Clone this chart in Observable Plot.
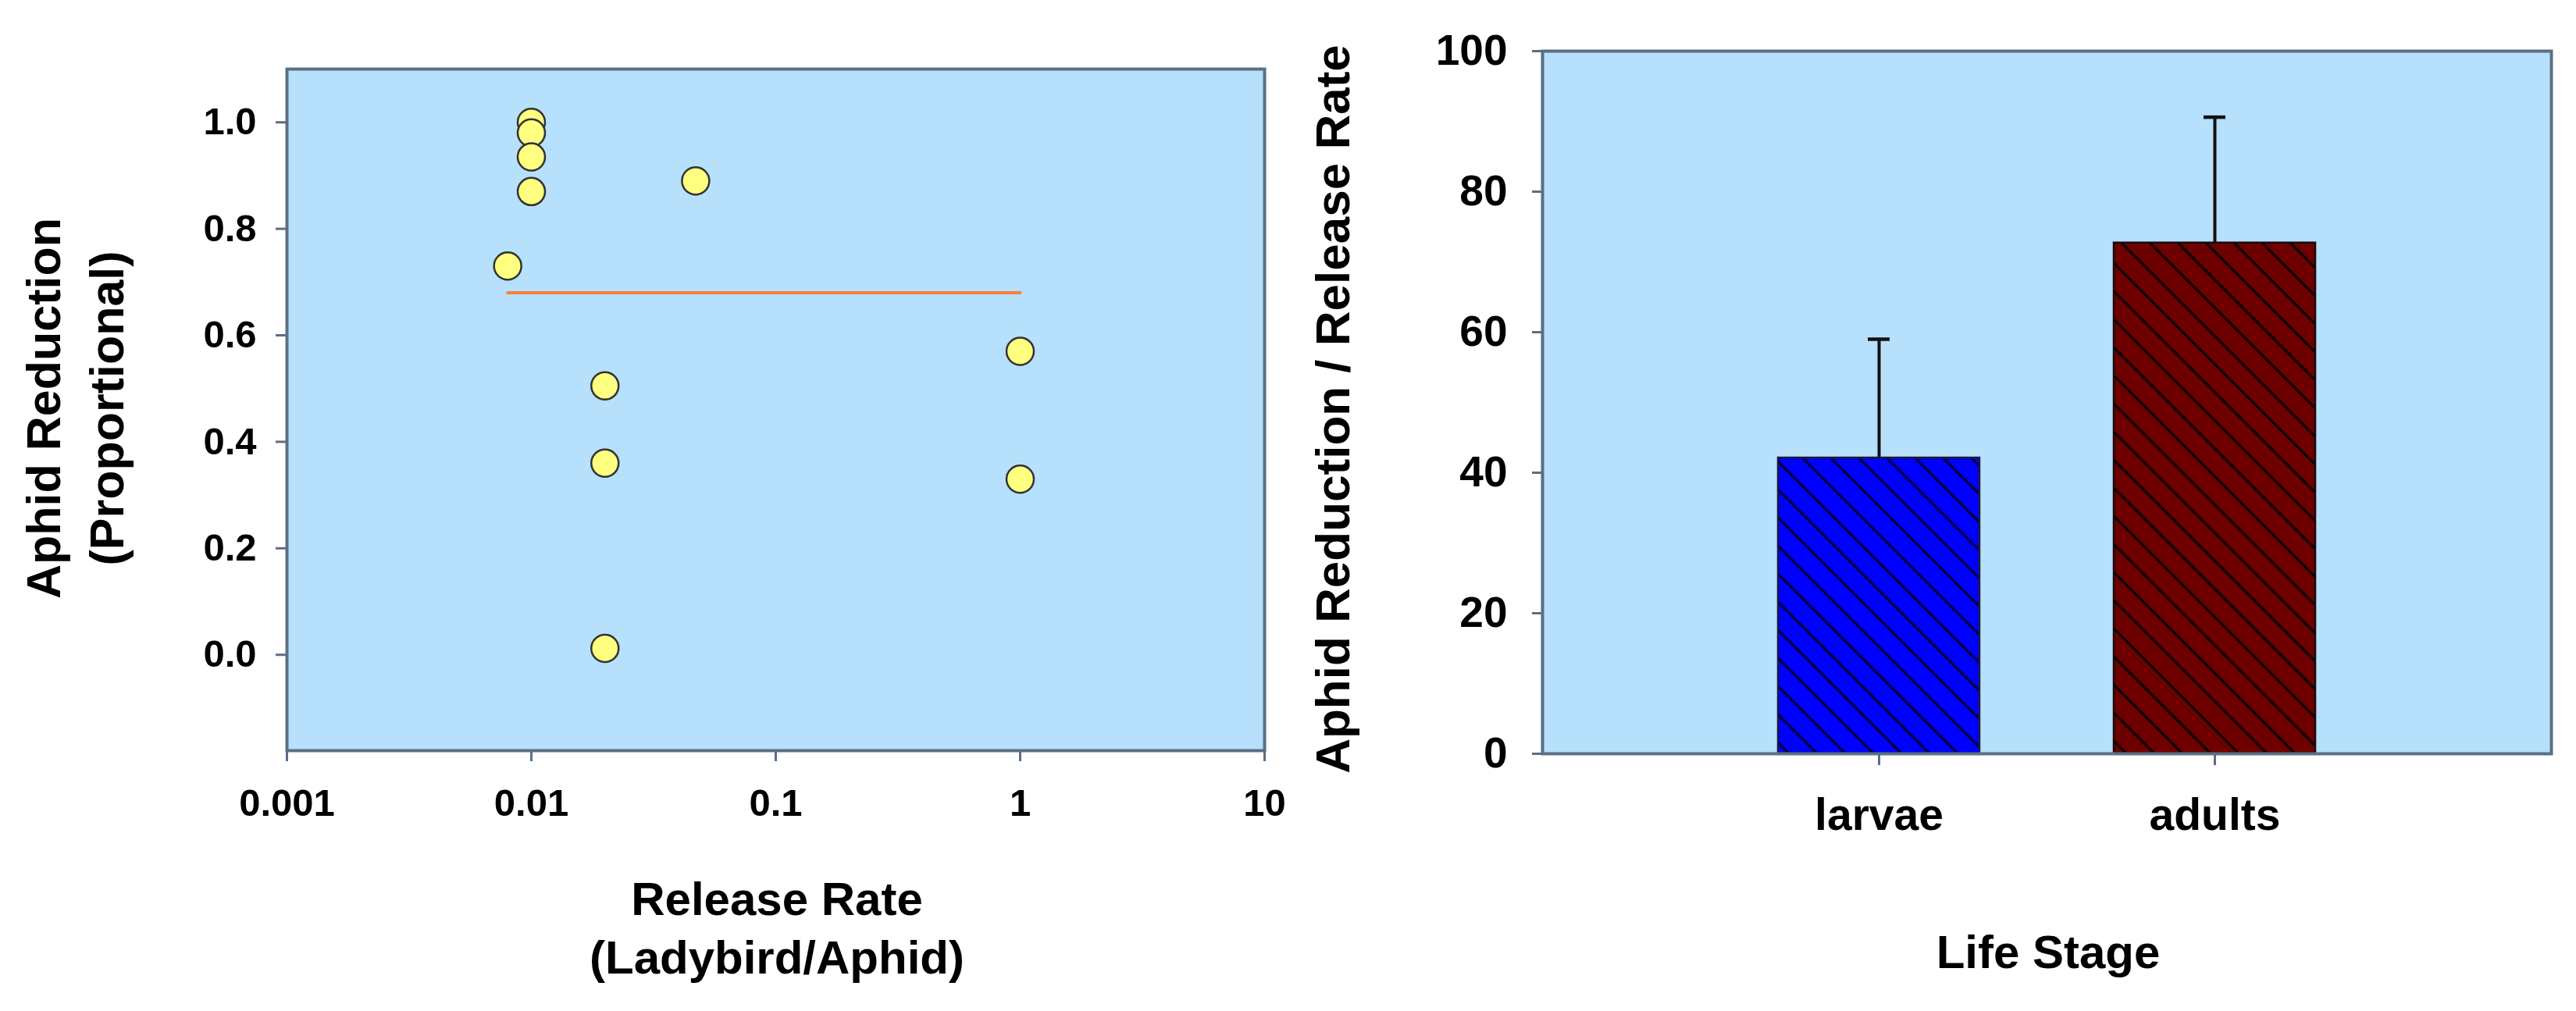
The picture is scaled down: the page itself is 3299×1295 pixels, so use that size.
<!DOCTYPE html>
<html>
<head>
<meta charset="utf-8">
<script src="https://cdn.jsdelivr.net/npm/d3@7"></script>
<script src="https://cdn.jsdelivr.net/npm/@observablehq/plot@0.6"></script>
<style>
  html, body { margin: 0; padding: 0; background: #fff; }
  #page { position: relative; width: 3299px; height: 1295px; background: #fff; overflow: hidden; }
  #page > svg { position: absolute; }
  .ttl { font-family: "Liberation Sans", Arial, sans-serif; font-weight: bold; fill: #000; }
</style>
</head>
<body>
<div id="page"></div>
<script>
// ---------- Left panel data: release rate vs aphid reduction ----------
const rateX      = [0.01, 0.01, 0.01, 0.01, 0.047, 0.008, 0.02, 0.02, 0.02, 1, 1];
const reductionY = [1.00, 0.98, 0.935, 0.87, 0.89, 0.73, 0.505, 0.36, 0.012, 0.57, 0.33];
const trendX = [0.008, 1];
const trendY = [0.68, 0.68];
const rateTicks = [0.001, 0.01, 0.1, 1, 10];
const rateTickLabels = ["0.001", "0.01", "0.1", "1", "10"];
const reductionTicks = [0, 0.2, 0.4, 0.6, 0.8, 1.0];
const reductionTickLabels = ["0.0", "0.2", "0.4", "0.6", "0.8", "1.0"];

// ---------- Right panel data: life stage ----------
const stages = ["larvae", "adults"];
const stageMeans = [42.1, 72.7];
const stageErrors = [16.9, 17.9];
const stageTicks = [0, 20, 40, 60, 80, 100];

const FONT = '"Liberation Sans", Arial, sans-serif';
const BG = "#b6e0fc";
const BORDER = "#5b6f84";

const page = document.getElementById("page");

// ---------- Left plot ----------
const pts = rateX.map((x, i) => ({x, y: reductionY[i]}));
const trend = trendX.map((x, i) => ({x, y: trendY[i]}));

const left = Plot.plot({
  width: 1650, height: 1100,
  marginLeft: 367, marginRight: 31, marginTop: 88, marginBottom: 139,
  style: {fontFamily: FONT, fontWeight: "bold", fontSize: "49px", background: "transparent", color: "#000", overflow: "visible"},
  x: {type: "log", domain: [0.001, 10], axis: null},
  y: {domain: [-0.18, 1.1], axis: null},
  marks: [
    Plot.frame({fill: BG}),
    Plot.axisX({ticks: rateTicks, tickFormat: (d) => rateTickLabels[rateTicks.indexOf(d)], tickSize: 14, tickPadding: 35,
      stroke: BORDER, strokeWidth: 3, fill: "#000", fontSize: 49, fontWeight: "bold", label: null}),
    Plot.axisY({ticks: reductionTicks, tickFormat: (d) => reductionTickLabels[reductionTicks.indexOf(d)], tickSize: 14, tickPadding: 25,
      stroke: BORDER, strokeWidth: 3, fill: "#000", fontSize: 49, fontWeight: "bold", label: null}),
    Plot.line(trend, {x: "x", y: "y", stroke: "#ff7f3a", strokeWidth: 4}),
    Plot.dot(pts, {x: "x", y: "y", r: 17.5, fill: "#ffff80", stroke: "#333", strokeWidth: 2.5}),
    Plot.frame({stroke: BORDER, strokeWidth: 4})
  ]
});
left.style.left = "0px";
left.style.top = "0px";
page.appendChild(left);

// ---------- Right plot ----------
const bars = stages.map((s, i) => ({stage: s, mean: stageMeans[i], top: stageMeans[i] + stageErrors[i]}));
const patternFor = {larvae: "url(#hatchBlue)", adults: "url(#hatchRed)"};

const right = Plot.plot({
  width: 1649, height: 1100,
  marginLeft: 325, marginRight: 32, marginTop: 65, marginBottom: 135,
  style: {fontFamily: FONT, fontWeight: "bold", fontSize: "55px", background: "transparent", color: "#000", overflow: "visible"},
  x: {type: "band", domain: stages, paddingInner: 0.4, paddingOuter: 0.7, axis: null},
  y: {domain: [0, 100], axis: null},
  marks: [
    Plot.frame({fill: BG}),
    Plot.axisX({tickSize: 15, tickPadding: 42, stroke: BORDER, strokeWidth: 3, fill: "#000", fontSize: 57, fontWeight: "bold", label: null}),
    Plot.axisY({ticks: stageTicks, tickSize: 13, tickPadding: 32, stroke: BORDER, strokeWidth: 3, fill: "#000", fontSize: 55, fontWeight: "bold", label: null}),
    Plot.ruleX(bars, {x: "stage", y1: "mean", y2: "top", stroke: "#111", strokeWidth: 4}),
    Plot.tickY(bars, {x: "stage", y: "top", stroke: "#111", strokeWidth: 4.5, insetLeft: 115, insetRight: 115}),
    Plot.barY(bars.filter(d => d.stage === "larvae"), {x: "stage", y: "mean", fill: patternFor.larvae, stroke: "#1a1a3a", strokeWidth: 2.5}),
    Plot.barY(bars.filter(d => d.stage === "adults"), {x: "stage", y: "mean", fill: patternFor.adults, stroke: "#1a0a0a", strokeWidth: 2.5}),
    Plot.frame({stroke: BORDER, strokeWidth: 4})
  ]
});
d3.select(right).insert("defs", ":first-child").html(`
  <pattern id="hatchBlue" patternUnits="userSpaceOnUse" width="36" height="36">
    <rect width="36" height="36" fill="#0000ff"></rect>
    <path d="M-2,-2L38,38M34,-2L38,2M-2,34L2,38" stroke="#00004a" stroke-width="3.5"></path>
  </pattern>
  <pattern id="hatchRed" patternUnits="userSpaceOnUse" width="36" height="36">
    <rect width="36" height="36" fill="#6e0000"></rect>
    <path d="M-2,-2L38,38M34,-2L38,2M-2,34L2,38" stroke="#140000" stroke-width="3.5"></path>
  </pattern>`);
right.style.left = "1650px";
right.style.top = "0px";
page.appendChild(right);

// ---------- Axis titles (overlay) ----------
const ov = d3.select(page).append("svg")
  .attr("width", 3299).attr("height", 1295)
  .style("left", "0px").style("top", "0px").style("pointer-events", "none");

ov.append("text").attr("class", "ttl").attr("font-size", 61).attr("text-anchor", "middle")
  .attr("transform", "translate(77,523) rotate(-90)").text("Aphid Reduction");
ov.append("text").attr("class", "ttl").attr("font-size", 61).attr("text-anchor", "middle")
  .attr("transform", "translate(158,523) rotate(-90)").text("(Proportional)");

ov.append("text").attr("class", "ttl").attr("font-size", 60).attr("text-anchor", "middle")
  .attr("x", 995).attr("y", 1172).text("Release Rate");
ov.append("text").attr("class", "ttl").attr("font-size", 60).attr("text-anchor", "middle")
  .attr("x", 995).attr("y", 1247).text("(Ladybird/Aphid)");

ov.append("text").attr("class", "ttl").attr("font-size", 62).attr("text-anchor", "middle")
  .attr("transform", "translate(1728,524) rotate(-90)").text("Aphid Reduction / Release Rate");

ov.append("text").attr("class", "ttl").attr("font-size", 60).attr("text-anchor", "middle")
  .attr("x", 2623).attr("y", 1240).text("Life Stage");
</script>
</body>
</html>
